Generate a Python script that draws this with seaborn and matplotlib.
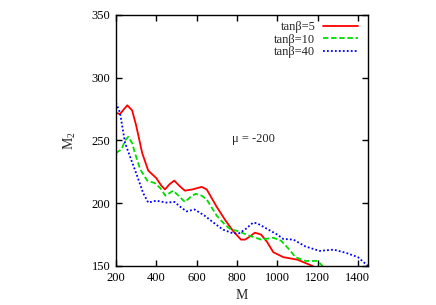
import matplotlib
matplotlib.use("Agg")
import matplotlib.pyplot as plt
import seaborn as sns
import pandas as pd

sns.set_theme(style="ticks")
plt.rcParams['font.family'] = ['Liberation Serif', 'DejaVu Serif']
plt.rcParams['mathtext.fontset'] = 'custom'
plt.rcParams['mathtext.rm'] = 'Liberation Serif'

red_x = [200, 220, 240, 256, 280, 300, 330, 360, 400, 425, 443, 465, 489, 520, 542, 580, 625, 650, 700, 740, 780, 820, 840, 860, 889, 920, 950, 980, 1030, 1100, 1160, 1200]
red_y = [272, 271, 275, 278, 274, 262, 240, 226, 220, 214, 211, 215, 218, 213, 210, 211, 213, 211, 197, 187, 178, 171, 171, 173, 176.5, 175, 169, 161, 157, 155, 151, 148]

green_x = [200, 228, 245, 261, 280, 294, 320, 355, 393, 420, 445, 465, 484, 510, 542, 570, 595, 625, 650, 700, 740, 770, 800, 864, 920, 980, 1020, 1060, 1090, 1140, 1200, 1230]
green_y = [240, 243, 250, 253, 248, 240, 227, 218, 216, 212, 206, 208, 210, 206, 201, 205, 207.5, 206, 203, 190, 183, 179, 178, 174, 171, 172.5, 170, 163, 157, 154, 154, 149]

blue_x = [200, 220, 245, 270, 300, 335, 360, 400, 450, 490, 520, 550, 590, 640, 680, 730, 780, 810, 840, 880, 900, 950, 1000, 1030, 1080, 1140, 1210, 1280, 1340, 1400, 1450]
blue_y = [280, 272, 248, 237, 224, 208, 200.5, 202, 200.5, 201, 197, 193.5, 195, 190, 185, 179, 176, 176, 179, 184.5, 184, 179.5, 175, 171.5, 171, 165.5, 162, 163, 160.5, 157, 150]

labels = ['tanβ=5', 'tanβ=10', 'tanβ=40']
colors = ['#ff0000', '#00dd00', '#0000ff']
styles = ['-', (0, (3, 1.5)), (0, (1, 1.2))]

fig = plt.figure(figsize=(4.36, 3.05), dpi=100)
ax = fig.add_axes([0.266, 0.128, 0.578, 0.823])

for xs, ys, lab, c, ls in zip([red_x, green_x, blue_x], [red_y, green_y, blue_y], labels, colors, styles):
    df = pd.DataFrame({'M': xs, 'M2': ys})
    sns.lineplot(data=df, x='M', y='M2', ax=ax, color=c, linestyle=ls, linewidth=1.3, label=lab, sort=False)

ax.set_xlim(200, 1450)
ax.set_ylim(150, 350)
ax.set_xticks([200, 400, 600, 800, 1000, 1200, 1400])
ax.set_yticks([150, 200, 250, 300, 350])
ax.tick_params(direction='in', top=True, right=True, length=4, width=1, labelsize=9, colors='black', pad=4)
for s in ax.spines.values():
    s.set_linewidth(1.0)
    s.set_color('black')
ax.set_xlabel('M', fontsize=10, labelpad=4)
ax.set_ylabel(r'M$_2$', fontsize=10, labelpad=10)
ax.text(880, 251, 'μ = -200', ha='center', va='center', fontsize=9)

leg = ax.legend(loc='upper right', bbox_to_anchor=(0.99, 1.006), frameon=False, markerfirst=False,
                fontsize=9, handlelength=2.8, labelspacing=0.05, handletextpad=0.6, borderaxespad=0.2)

fig.savefig('out.png', dpi=100)
